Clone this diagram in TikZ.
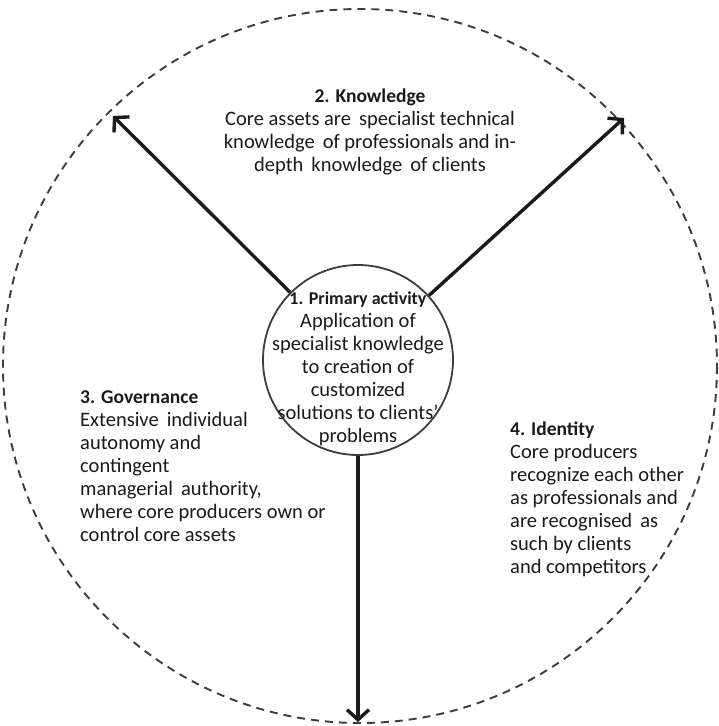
\documentclass[tikz,border=0pt]{standalone}
\usepackage{fontspec}
\setmainfont{Carlito}
\usetikzlibrary{arrows.meta}
\definecolor{ink}{HTML}{1A1A1A}
\newcommand{\hd}[1]{{\fontsize{19.5}{23}\selectfont\bfseries #1}}
\newcommand{\hdsmall}[1]{{\fontsize{18}{23}\selectfont\bfseries #1}}
\begin{document}
\begin{tikzpicture}[x=1pt,y=-1pt,
  txt/.style={font=\fontsize{20.5}{23}\selectfont, text=ink, inner sep=0pt},
  conn/.style={line width=3.4pt, draw=ink, -{Straight Barb[length=10pt,width=22pt]}},
  ring/.style={draw=ink!85, line width=1.9pt, dash pattern=on 8pt off 6pt},
  hub/.style={circle, draw=ink!85, line width=1.8pt, minimum size=190pt, inner sep=0pt},
]
\useasboundingbox (0,0) rectangle (719,726);

% outer dashed boundary
\begin{scope}
  \clip (0,0) rectangle (719,726);
  \draw[ring] (360,366) ellipse [x radius=357, y radius=357];
\end{scope}

% central circle
\node[hub] (core) at (358,360) {};
\node[txt, align=center] (coretext) at (358,368.5) {%
  \hdsmall{1. Primary activity}\\
  Application of\\
  specialist knowledge\\
  to creation of\\
  customized\\
  solutions to clients'\\
  problems};

% arrow end points on the dashed boundary
\coordinate (tipL) at (113,116);
\coordinate (tipR) at (624,118);
\coordinate (tipB) at (358,722);

\draw[conn] (core) -- (tipL);
\draw[conn] (core) -- (tipR);
\draw[conn] (core) -- (tipB);

% surrounding descriptions
\node[txt, align=center] (know) at (370,131.5) {%
  \hd{2. Knowledge}\\
  Core assets are\, specialist technical\\
  knowledge\, of professionals and in-\\
  depth\, knowledge\, of clients};

\node[txt, align=left, anchor=west] (gov) at (80,466) {%
  \hd{3. Governance}\\
  Extensive\, individual\\
  autonomy and\\
  contingent\\
  managerial\, authority,\\
  where core producers own or\\
  control core assets};

\node[txt, align=left, anchor=west] (ident) at (510,499) {%
  \hd{4. Identity}\\
  Core producers\\
  recognize each other\\
  as professionals and\\
  are recognised\, as\\
  such by clients\\
  and competitors};
\end{tikzpicture}
\end{document}
